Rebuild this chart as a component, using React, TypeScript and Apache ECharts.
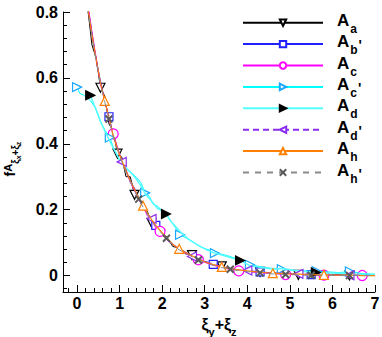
import React, { useEffect, useRef } from 'react';
import * as echarts from 'echarts';

const FONT = '"Liberation Sans", Arial, Helvetica, sans-serif';

// ---- data ----
const xiMain = [0.2, 0.27, 0.35, 0.45, 0.55, 0.65, 0.75, 0.85, 0.95, 1.05, 1.15, 1.25, 1.35, 1.45, 1.55, 1.65, 1.75, 1.85, 1.95, 2.1, 2.25, 2.4, 2.55, 2.7, 2.85, 3.0, 3.2, 3.4, 3.6, 3.8, 4.0, 4.3, 4.6, 4.9, 5.2, 5.5, 5.8, 6.1, 6.4, 6.7, 7.0];
const fAa = [0.85, 0.79, 0.70, 0.66, 0.57, 0.545, 0.46, 0.44, 0.37, 0.36, 0.30, 0.30, 0.245, 0.24, 0.20, 0.195, 0.16, 0.158, 0.13, 0.118, 0.088, 0.084, 0.066, 0.062, 0.047, 0.043, 0.030, 0.028, 0.019, 0.018, 0.012, 0.011, 0.006, 0.006, 0.002, 0.003, 0.0, 0.002, 0.0, 0.001, 0.0];
const fAbp = [0.86, 0.805, 0.735, 0.655, 0.59, 0.53, 0.482, 0.428, 0.385, 0.352, 0.318, 0.29, 0.262, 0.236, 0.213, 0.19, 0.171, 0.152, 0.138, 0.116, 0.095, 0.081, 0.071, 0.06, 0.05, 0.042, 0.034, 0.026, 0.021, 0.018, 0.015, 0.011, 0.008, 0.005, 0.004, 0.003, 0.002, 0.001, 0.001, 0.0, 0.0];
const fAc = [0.87, 0.81, 0.74, 0.66, 0.58, 0.535, 0.475, 0.43, 0.39, 0.345, 0.32, 0.283, 0.258, 0.23, 0.21, 0.182, 0.168, 0.145, 0.134, 0.109, 0.095, 0.078, 0.068, 0.056, 0.048, 0.04, 0.031, 0.025, 0.018, 0.014, 0.012, 0.009, 0.006, 0.003, 0.003, 0.002, 0.001, 0.0, 0.001, 0.0, 0.0];
const fAdp = [0.86, 0.80, 0.735, 0.65, 0.59, 0.525, 0.485, 0.42, 0.39, 0.345, 0.322, 0.284, 0.266, 0.232, 0.214, 0.186, 0.172, 0.149, 0.138, 0.113, 0.096, 0.079, 0.071, 0.058, 0.051, 0.044, 0.035, 0.027, 0.022, 0.017, 0.015, 0.010, 0.008, 0.006, 0.005, 0.003, 0.002, 0.001, 0.001, 0.001, 0.0];
const fAh = [0.86, 0.80, 0.73, 0.655, 0.585, 0.53, 0.48, 0.425, 0.385, 0.35, 0.318, 0.288, 0.262, 0.235, 0.212, 0.19, 0.17, 0.152, 0.137, 0.116, 0.094, 0.081, 0.07, 0.06, 0.05, 0.042, 0.033, 0.026, 0.021, 0.017, 0.014, 0.010, 0.007, 0.005, 0.004, 0.003, 0.002, 0.001, 0.001, 0.0, 0.0];
const fAhp = [0.855, 0.795, 0.725, 0.65, 0.58, 0.528, 0.475, 0.422, 0.382, 0.346, 0.312, 0.285, 0.258, 0.232, 0.208, 0.187, 0.166, 0.15, 0.133, 0.113, 0.092, 0.078, 0.068, 0.057, 0.047, 0.04, 0.031, 0.024, 0.019, 0.015, 0.012, 0.008, 0.005, 0.003, 0.002, 0.001, 0.001, 0.0, 0.0, 0.0, 0.0];

const xiAcp = [0.0, 0.07, 0.15, 0.23, 0.32, 0.42, 0.54, 0.66, 0.77, 0.85, 0.92, 1.0, 1.1, 1.2, 1.3, 1.4, 1.5, 1.6, 1.7, 1.79, 1.9, 2.0, 2.09, 2.18, 2.26, 2.34, 2.42, 2.55, 2.69, 2.83, 2.97, 3.1, 3.24, 3.42, 3.59, 3.83, 4.06, 4.3, 4.55, 4.81, 5.1, 5.35, 5.63, 5.9, 6.15, 6.41, 6.7, 7.0];
const fAcp = [0.572, 0.552, 0.548, 0.541, 0.530, 0.511, 0.47, 0.44, 0.419, 0.389, 0.372, 0.348, 0.335, 0.318, 0.31, 0.297, 0.282, 0.251, 0.24, 0.216, 0.21, 0.195, 0.187, 0.17, 0.155, 0.14, 0.124, 0.115, 0.104, 0.093, 0.083, 0.078, 0.068, 0.064, 0.058, 0.047, 0.033, 0.027, 0.022, 0.019, 0.016, 0.014, 0.013, 0.011, 0.009, 0.012, 0.006, 0.004];

const xiAd = [0.31, 0.38, 0.46, 0.56, 0.68, 0.8, 0.9, 1.0, 1.12, 1.25, 1.38, 1.5, 1.62, 1.75, 1.88, 2.0, 2.09, 2.2, 2.32, 2.45, 2.6, 2.75, 2.9, 3.05, 3.2, 3.4, 3.6, 3.83, 4.06, 4.3, 4.6, 4.85, 5.1, 5.35, 5.61, 5.9, 6.2, 6.5, 6.75, 7.0];
const fAd = [0.547, 0.525, 0.50, 0.465, 0.432, 0.40, 0.375, 0.352, 0.33, 0.315, 0.295, 0.272, 0.245, 0.226, 0.205, 0.196, 0.187, 0.165, 0.148, 0.13, 0.112, 0.1, 0.088, 0.078, 0.07, 0.062, 0.055, 0.046, 0.03, 0.025, 0.02, 0.021, 0.015, 0.012, 0.009, 0.008, 0.007, 0.005, 0.004, 0.003];

// positions (in ξ) where markers are drawn on each curve
const markAa = [0.55, 0.95, 1.35, 1.75, 2.7, 3.4, 4.3, 5.2, 6.4];
const markAbp = [0.75, 1.85, 3.2, 4.3, 5.5];
const markAc = [0.85, 1.95, 2.85, 3.8, 4.9, 5.8, 6.7];
const markAcp = [0.0, 0.77, 1.6, 2.42, 3.24, 4.06, 4.81, 5.63, 6.41];
const markAd = [0.31, 2.09, 3.83, 5.61];
const markAdp = [1.05, 1.75, 2.7, 4.0, 5.2, 6.4];
const markAh = [0.65, 1.55, 2.4, 3.4, 4.6, 5.8];
const markAhp = [0.75, 1.45, 2.1, 2.85, 3.6, 4.3, 4.9, 5.5, 6.4];

const seriesNames = ['Aa', "Ab'", 'Ac', "Ac'", 'Ad', "Ad'", 'Ah', "Ah'"];

const xTickValues = [0, 1, 2, 3, 4, 5, 6, 7];
const xMinorValues = [-0.2, 0.2, 0.4, 0.6, 0.8, 1.2, 1.4, 1.6, 1.8, 2.2, 2.4, 2.6, 2.8, 3.2, 3.4, 3.6, 3.8, 4.2, 4.4, 4.6, 4.8, 5.2, 5.4, 5.6, 5.8, 6.2, 6.4, 6.6, 6.8];
const yTickValues = [0, 0.2, 0.4, 0.6, 0.8];
const yMinorValues = [-0.04, 0.04, 0.08, 0.12, 0.16, 0.24, 0.28, 0.32, 0.36, 0.44, 0.48, 0.52, 0.56, 0.64, 0.68, 0.72, 0.76];

const X_MIN = -0.33;
const X_MAX = 7;
const Y_MIN = -0.05;
const Y_MAX = 0.8;

function buildData(xs: number[], ys: number[], marks: number[]) {
  const idx = new Set(
    marks.map((m) => {
      let best = 0;
      xs.forEach((x, i) => {
        if (Math.abs(x - m) < Math.abs(xs[best] - m)) best = i;
      });
      return best;
    })
  );
  return xs.map((x, i) =>
    idx.has(i) ? { value: [x, ys[i]] } : { value: [x, ys[i]], symbol: 'none' }
  );
}

const CROSS = 'path://M0,0L10,10M10,0L0,10';

const styles = [
  { xs: xiMain, ys: fAa, marks: markAa, line: '#000000', mark: '#000000', fill: '#ffffff', symbol: 'triangle', rotate: 180, dash: null as number[] | null, width: 1, size: 9 },
  { xs: xiMain, ys: fAbp, marks: markAbp, line: '#2020ff', mark: '#2020ff', fill: '#ffffff', symbol: 'rect', rotate: 0, dash: null, width: 1, size: 8 },
  { xs: xiMain, ys: fAc, marks: markAc, line: '#ff00ff', mark: '#ff00ff', fill: '#ffffff', symbol: 'circle', rotate: 0, dash: null, width: 1, size: 10 },
  { xs: xiAcp, ys: fAcp, marks: markAcp, line: '#00ffff', mark: '#18a8ff', fill: '#ffffff', symbol: 'triangle', rotate: -90, dash: null, width: 1, size: 9 },
  { xs: xiAd, ys: fAd, marks: markAd, line: '#55ffff', mark: '#000000', fill: '#000000', symbol: 'triangle', rotate: -90, dash: null, width: 1.5, size: 9 },
  { xs: xiMain, ys: fAdp, marks: markAdp, line: '#8c2cf0', mark: '#8c2cf0', fill: '#ffffff', symbol: 'triangle', rotate: 90, dash: [6, 4], width: 1, size: 9 },
  { xs: xiMain, ys: fAh, marks: markAh, line: '#ff8000', mark: '#ff8000', fill: '#ffffff', symbol: 'triangle', rotate: 0, dash: null, width: 1.2, size: 9 },
  { xs: xiMain, ys: fAhp, marks: markAhp, line: '#8a8a8a', mark: '#5a5a5a', fill: 'none', symbol: CROSS, rotate: 0, dash: [6, 6], width: 1, size: 7 },
];

const legendRich = {
  A: { fontFamily: FONT, fontSize: 17, fontWeight: 'bold', color: '#000', lineHeight: 19, padding: [0, 0, 5, 9] },
  s: { fontFamily: FONT, fontSize: 12, fontWeight: 'bold', color: '#000', lineHeight: 12, padding: [12, 0, 0, 1] },
  p: { fontFamily: FONT, fontSize: 14, fontWeight: 'bold', color: '#000', lineHeight: 12, padding: [2, 0, 0, 1] },
};

function legendLabel(name: string) {
  const sub = name.charAt(1);
  const prime = name.length > 2;
  return `{A|A}{s|${sub}}` + (prime ? `{p|'}` : '');
}

const LEGEND_Y0 = 22.7;
const LEGEND_STEP = 21.4;

export default function App() {
  const ref = useRef<HTMLDivElement>(null);
  useEffect(() => {
    if (!ref.current) return;
    const chart = echarts.init(ref.current, undefined, { renderer: 'svg' });
    const series = styles.map((s, i) => ({
      type: 'line',
      name: seriesNames[i],
      data: buildData(s.xs, s.ys, s.marks),
      xAxisIndex: 0,
      yAxisIndex: 0,
      symbol: s.symbol,
      symbolSize: s.size,
      symbolRotate: s.rotate,
      showSymbol: true,
      showAllSymbol: true,
      clip: true,
      lineStyle: { color: s.line, width: s.width, type: s.dash ? s.dash : 'solid' },
      itemStyle: { color: s.fill, borderColor: s.mark, borderWidth: s.symbol === CROSS ? 2 : 1.2 },
      emphasis: { disabled: true },
      z: 2 + i,
    }));
    const legends = seriesNames.map((n, i) => ({
      data: [n],
      left: 242,
      top: LEGEND_Y0 + LEGEND_STEP * i - 12,
      orient: 'vertical',
      padding: 0,
      itemWidth: 80,
      itemHeight: 8,
      selectedMode: false,
      formatter: legendLabel,
      textStyle: { rich: legendRich },
    }));
    chart.setOption({
      animation: false,
      backgroundColor: '#ffffff',
      grid: { left: 63, right: 7, top: 12, bottom: 45, outerBoundsMode: 'none' },
      legend: legends,
      xAxis: [
        {
          type: 'value',
          min: X_MIN,
          max: X_MAX,
          position: 'bottom',
          axisLine: { show: true, onZero: false, lineStyle: { color: '#000', width: 1 } },
          axisTick: { show: true, inside: true, length: 7, customValues: xTickValues, lineStyle: { color: '#000' } },
          axisLabel: { customValues: xTickValues, fontFamily: FONT, fontSize: 16, fontWeight: 'bold', color: '#000', margin: 3 },
          splitLine: { show: false },
          name: '{x|ξ}{sub|y}{x|+ξ}{sub|z}',
          nameLocation: 'middle',
          nameGap: 14,
          nameTextStyle: {
            rich: {
              x: { fontFamily: FONT, fontSize: 16, fontWeight: 'bold', color: '#000', lineHeight: 18, padding: [0, 0, 4, 0] },
              sub: { fontFamily: FONT, fontSize: 11, fontWeight: 'bold', color: '#000', lineHeight: 11, padding: [11, 0, 0, 0] },
            },
          },
        },
        {
          type: 'value',
          min: X_MIN,
          max: X_MAX,
          position: 'bottom',
          axisLine: { show: false, onZero: false },
          axisTick: { show: true, inside: true, length: 4, customValues: xMinorValues, lineStyle: { color: '#000' } },
          axisLabel: { show: false },
          splitLine: { show: false },
        },
      ],
      yAxis: [
        {
          type: 'value',
          min: Y_MIN,
          max: Y_MAX,
          position: 'left',
          axisLine: { show: true, onZero: false, lineStyle: { color: '#000', width: 1 } },
          axisTick: { show: true, inside: true, length: 7, customValues: yTickValues, lineStyle: { color: '#000' } },
          axisLabel: { customValues: yTickValues, fontFamily: FONT, fontSize: 16, fontWeight: 'bold', color: '#000', margin: 5, formatter: (v: number) => String(Math.round(v * 10) / 10) },
          splitLine: { show: false },
          name: '{f|f}{A|A}{s|ξ}{ss|x}{s|+ξ}{ss|z}',
          nameLocation: 'middle',
          nameRotate: 90,
          nameGap: 43,
          nameTextStyle: {
            padding: [0, 14, 0, 0],
            rich: {
              f: { fontFamily: FONT, fontSize: 14, fontWeight: 'bold', color: '#000', lineHeight: 16, padding: [1, 0, 5, 0] },
              A: { fontFamily: FONT, fontSize: 11, fontWeight: 'bold', color: '#000', lineHeight: 11, padding: [1, 0, 10, 0] },
              s: { fontFamily: FONT, fontSize: 10, fontWeight: 'bold', color: '#000', lineHeight: 10, padding: [9, 0, 3, 0] },
              ss: { fontFamily: FONT, fontSize: 7, fontWeight: 'bold', color: '#000', lineHeight: 7, padding: [14, 0, 1, 0] },
            },
          },
        },
        {
          type: 'value',
          min: Y_MIN,
          max: Y_MAX,
          position: 'left',
          axisLine: { show: false, onZero: false },
          axisTick: { show: true, inside: true, length: 4, customValues: yMinorValues, lineStyle: { color: '#000' } },
          axisLabel: { show: false },
          splitLine: { show: false },
        },
      ],
      series,
    });
    return () => chart.dispose();
  }, []);
  return (
    <div
      ref={ref}
      style={{ position: 'fixed', left: 0, top: 0, width: 382, height: 337, background: '#fff' }}
    />
  );
}
